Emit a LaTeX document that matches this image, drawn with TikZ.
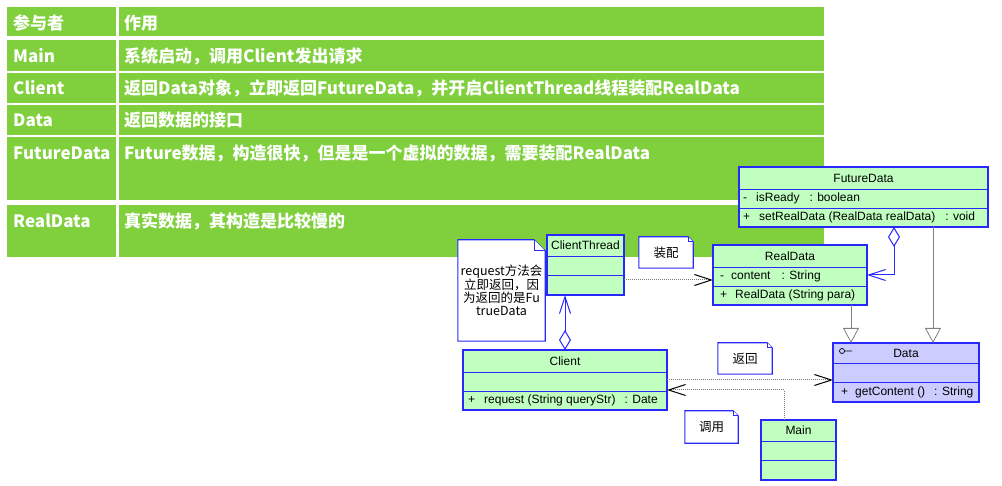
\documentclass[tikz,border=0pt]{standalone}
\usepackage{fontspec}
\setmainfont{Liberation Sans}
\newfontfamily\cjk{Noto Sans CJK SC}
\usepackage{tikz}
\usetikzlibrary{arrows.meta, positioning, calc, backgrounds}
\definecolor{tblgreen}{RGB}{127,208,60}
\definecolor{clsgreen}{RGB}{192,255,192}
\definecolor{ifcblue}{RGB}{204,204,255}
\definecolor{umlblue}{RGB}{40,40,250}
\definecolor{depgrey}{RGB}{120,120,120}
\pgfdeclarelayer{notefill}
\pgfsetlayers{background,notefill,main}
\tikzset{
  tblhead/.style={anchor=base west, inner sep=0pt, text=white,
    font=\cjk\bfseries\fontsize{17}{20}\selectfont},
  umlcls/.style={rectangle, draw=umlblue, fill=clsgreen, line width=1.2pt,
    anchor=north west, inner sep=0pt, outer sep=0pt},
  umlifc/.style={umlcls, fill=ifcblue},
  umlsep/.style={draw=umlblue, line width=0.9pt},
  clsname/.style={inner sep=0pt, font=\fontsize{12}{12}\selectfont},
  clsmember/.style={anchor=west, inner sep=0pt, font=\fontsize{12}{12}\selectfont},
  umlnote/.style={inner sep=0pt, align=center,
    font=\cjk\fontsize{12.5}{13}\selectfont},
  noteedge/.style={draw=umlblue, line width=1.1pt, fill=white},
  genlink/.style={draw=gray, line width=0.8pt,
    -{Triangle[open, length=15pt, width=16pt]}},
  deplink/.style={draw=depgrey, densely dotted, line width=1pt,
    -{Straight Barb[length=17pt, width=11pt, color=black]}},
  agglink/.style={draw=umlblue, line width=1pt,
    {Diamond[open, length=20pt, width=12pt]}-{Straight Barb[length=17pt, width=11pt]}},
}

\begin{document}
\begin{tikzpicture}[x=1pt, y=-1pt]
\useasboundingbox (0,0) rectangle (1002,486);

% table of roles
\begin{scope}[on background layer]
\fill[tblgreen] (7,7) rectangle (824,257);
\foreach \y/\w in {38/4, 71.7/2, 103.7/2, 136/2, 202.8/5}
  \draw[white, line width=\w pt] (7,\y) -- (824,\y);
\draw[white, line width=2.5pt] (117.3,7) -- (117.3,257);
\end{scope}

\node[tblhead] (hrole) at (13,30) {参与者};
\node[tblhead] (hduty) at (124,30) {作用};
\node[tblhead] (rmain) at (13,63) {Main};
\node[tblhead] (dmain) at (124,63) {系统启动，调用Client发出请求};
\node[tblhead] (rclient) at (13,95) {Client};
\node[tblhead] (dclient) at (124,95) {返回Data对象，立即返回FutureData，并开启ClientThread线程装配RealData};
\node[tblhead] (rdata) at (13,127) {Data};
\node[tblhead] (ddata) at (124,127) {返回数据的接口};
\node[tblhead] (rfuture) at (13,160) {FutureData};
\node[tblhead] (dfuture) at (124,160) {Future数据，构造很快，但是是一个虚拟的数据，需要装配RealData};
\node[tblhead] (rreal) at (13,228) {RealData};
\node[tblhead] (dreal) at (124,228) {真实数据，其构造是比较慢的};

% classes
\node[umlcls, minimum width=249pt, minimum height=60pt] (future) at (739,167) {};
\node[umlcls, minimum width=154pt, minimum height=60pt] (real) at (713,245) {};
\node[umlifc, minimum width=146pt, minimum height=59pt] (data) at (833,343) {};
\node[umlcls, minimum width=75pt, minimum height=60pt] (main) at (761,420) {};
\node[umlcls, minimum width=204pt, minimum height=60pt] (client) at (463,350) {};
\node[umlcls, minimum width=77pt, minimum height=60pt] (thread) at (547,235) {};

\foreach \c/\a/\b in {future/22/41, real/22/41, data/20/39, main/21/40,
                      client/22/41, thread/21/40} {
  \draw[umlsep] ([yshift=-\a pt]\c.north west) -- ([yshift=-\a pt]\c.north east);
  \draw[umlsep] ([yshift=-\b pt]\c.north west) -- ([yshift=-\b pt]\c.north east);
}

\node[clsname] at ([yshift=-11pt]future.north) {FutureData};
\node[clsmember] at ([xshift=4pt, yshift=-31.5pt]future.north west)
  {-\hspace{9pt}isReady\hspace{10pt}: boolean};
\node[clsmember] at ([xshift=4pt, yshift=-50.5pt]future.north west)
  {+\hspace{9pt}setRealData (RealData realData)\hspace{10pt}: void};

\node[clsname] at ([yshift=-11pt]real.north) {RealData};
\node[clsmember] at ([xshift=7pt, yshift=-31.5pt]real.north west)
  {-\hspace{7pt}content\hspace{11pt}: String};
\node[clsmember] at ([xshift=7pt, yshift=-50.5pt]real.north west)
  {+\hspace{8pt}RealData (String para)};

\node[clsname] at ([yshift=-10pt]data.north) {Data};
\draw[black, line width=0.7pt] ([xshift=9pt, yshift=-8pt]data.north west) circle (2.5pt)
  ([xshift=11.5pt, yshift=-8pt]data.north west) -- ([xshift=19pt, yshift=-8pt]data.north west);
\node[clsmember] at ([xshift=8pt, yshift=-49pt]data.north west)
  {+\hspace{7pt}getContent ()\hspace{9pt}: String};

\node[clsname] at ([yshift=-10.5pt]main.north) {Main};

\node[clsname] at ([yshift=-11pt]client.north) {Client};
\node[clsmember] at ([xshift=5pt, yshift=-50.5pt]client.north west)
  {+\hspace{9pt}request (String queryStr)\hspace{9pt}: Date};

\node[clsname] at ([yshift=-10.5pt]thread.north) {ClientThread};

% notes
\node[umlnote, minimum width=87pt, minimum height=101pt] (ntip) at (501.5,290.5)
  {request方法会\\立即返回，因\\为返回的是Fu\\trueData};
\node[umlnote, minimum width=54pt, minimum height=31pt] (nfit) at (666,252.5) {装配};
\node[umlnote, minimum width=54pt, minimum height=31pt] (nret) at (745,358.5) {返回};
\node[umlnote, minimum width=53pt, minimum height=32pt] (ncall) at (711.5,427) {调用};

\begin{pgfonlayer}{notefill}
\foreach \n/\f in {ntip/11, nfit/5, nret/5, ncall/5} {
  \draw[noteedge] (\n.north west) -- ([xshift=-\f pt]\n.north east)
    -- ([yshift=-\f pt]\n.north east) -- (\n.south east) -- (\n.south west) -- cycle;
  \draw[noteedge, line width=0.7pt] ([xshift=-\f pt]\n.north east)
    -- ([xshift=-\f pt, yshift=-\f pt]\n.north east) -- ([yshift=-\f pt]\n.north east);
}
\end{pgfonlayer}

% links
\draw[genlink] ([xshift=61pt]real.south) -- ([xshift=61pt]real.south |- data.north);
\draw[genlink] ([xshift=69.5pt]future.south) -- ([xshift=69.5pt]future.south |- data.north);
\draw[agglink] ([xshift=30.5pt]future.south) |- (real.east);
\draw[agglink] (client.north) -- (client.north |- thread.south);
\draw[deplink] (client.east) -- (client.east -| data.west);
\draw[deplink] ([xshift=-14.5pt]main.north) |- ([yshift=-10pt]client.east);
\draw[deplink] ([yshift=-15pt]thread.east) -- ([yshift=-15pt]thread.east -| real.west);
\end{tikzpicture}
\end{document}
